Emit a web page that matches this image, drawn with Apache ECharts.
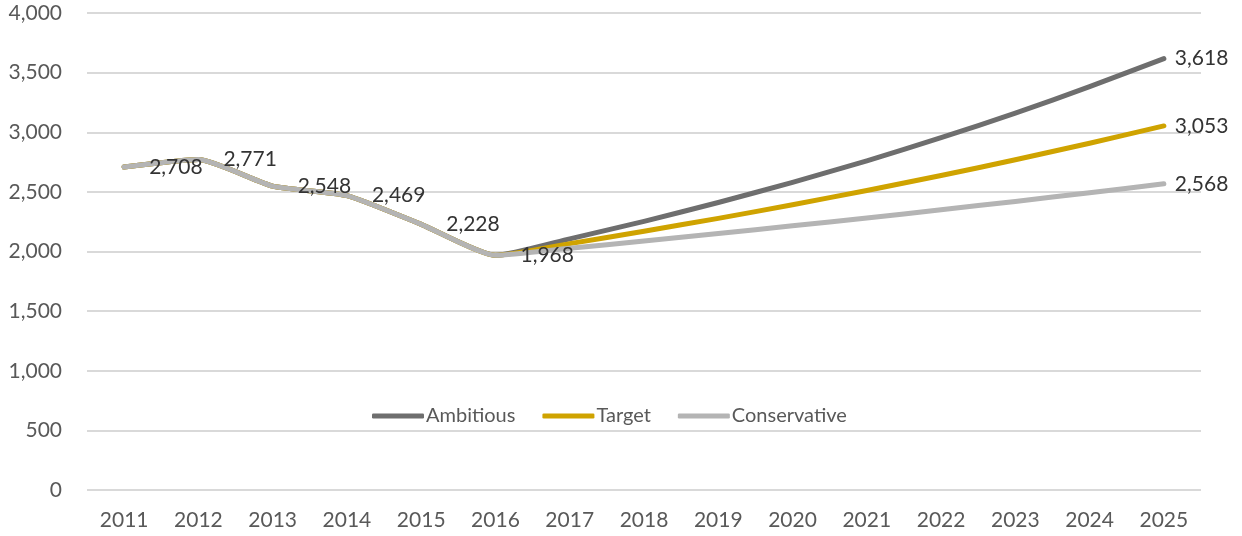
<!DOCTYPE html>
<html>
<head>
<meta charset="utf-8">
<script src="https://cdn.jsdelivr.net/npm/echarts@6/dist/echarts.min.js"></script>
<style>
  html, body { margin: 0; padding: 0; background: #ffffff; }
  #chart { width: 1242px; height: 536px; }
</style>
</head>
<body>
<div id="chart"></div>
<script>
// Years on the horizontal axis
const years = ['2011', '2012', '2013', '2014', '2015', '2016', '2017', '2018',
  '2019', '2020', '2021', '2022', '2023', '2024', '2025'];

// Scenario projections (shared history up to 2016)
const ambitious = [2708, 2771, 2548, 2469, 2228, 1968, 2106, 2253, 2411, 2580, 2760, 2954, 3160, 3382, 3618];
const target = [2708, 2771, 2548, 2469, 2228, 1968, 2066, 2170, 2278, 2392, 2512, 2637, 2769, 2908, 3053];
const conservative = [2708, 2771, 2548, 2469, 2228, 1968, 2027, 2088, 2150, 2215, 2281, 2350, 2420, 2493, 2568];

const seriesNames = ['Ambitious', 'Target', 'Conservative'];
const seriesColors = ['#6e6e6e', '#cfa300', '#b4b4b4'];

const FONT = 'Lato, "Noto Sans", sans-serif';
const fmt = v => v.toLocaleString('en-US');
const lastIdx = years.length - 1;
const historyEnd = 5; // 2016

// Value labels: history points along the shared line, plus each scenario's end value
function labelled(values, withHistory) {
  return values.map((v, i) => {
    if (i === lastIdx) return { value: v, label: { show: true, distance: 11 } };
    return { value: v, label: { show: withHistory && i <= historyEnd } };
  });
}

function makeSeries(name, values, color, withHistory) {
  return {
    name: name,
    type: 'line',
    data: labelled(values, withHistory),
    smooth: 0.18,
    symbol: 'circle',
    symbolSize: 0,
    showSymbol: true,
    lineStyle: { width: 5, color: color, cap: 'round', join: 'round' },
    itemStyle: { color: color },
    label: {
      show: false,
      position: 'right',
      distance: 25,
      color: '#333333',
      fontFamily: FONT,
      fontSize: 21,
      formatter: p => fmt(p.value)
    },
    emphasis: { disabled: true },
    animation: false
  };
}

const chart = echarts.init(document.getElementById('chart'));
chart.setOption({
  backgroundColor: '#ffffff',
  grid: { left: 87, right: 41, top: 13, bottom: 46 },
  legend: {
    left: 367,
    top: 401,
    itemWidth: 52,
    itemHeight: 5,
    itemGap: 27,
    icon: 'roundRect',
    textStyle: { fontFamily: FONT, fontSize: 20, color: '#595959', padding: [0, 0, 0, -3] },
    data: seriesNames.map((n, i) => ({ name: n, itemStyle: { color: seriesColors[i] } }))
  },
  xAxis: {
    type: 'category',
    data: years,
    boundaryGap: true,
    axisLine: { show: false },
    axisTick: { show: false },
    axisLabel: { fontFamily: FONT, fontSize: 21, color: '#595959', margin: 20 }
  },
  yAxis: {
    type: 'value',
    min: 0,
    max: 4000,
    interval: 500,
    axisLine: { show: false },
    axisTick: { show: false },
    splitLine: { lineStyle: { color: '#d9d9d9', width: 2 } },
    axisLabel: { fontFamily: FONT, fontSize: 21, color: '#595959', margin: 25, formatter: v => fmt(v) }
  },
  series: [
    makeSeries(seriesNames[0], ambitious, seriesColors[0], false),
    makeSeries(seriesNames[1], target, seriesColors[1], false),
    makeSeries(seriesNames[2], conservative, seriesColors[2], true)
  ]
});
</script>
</body>
</html>
